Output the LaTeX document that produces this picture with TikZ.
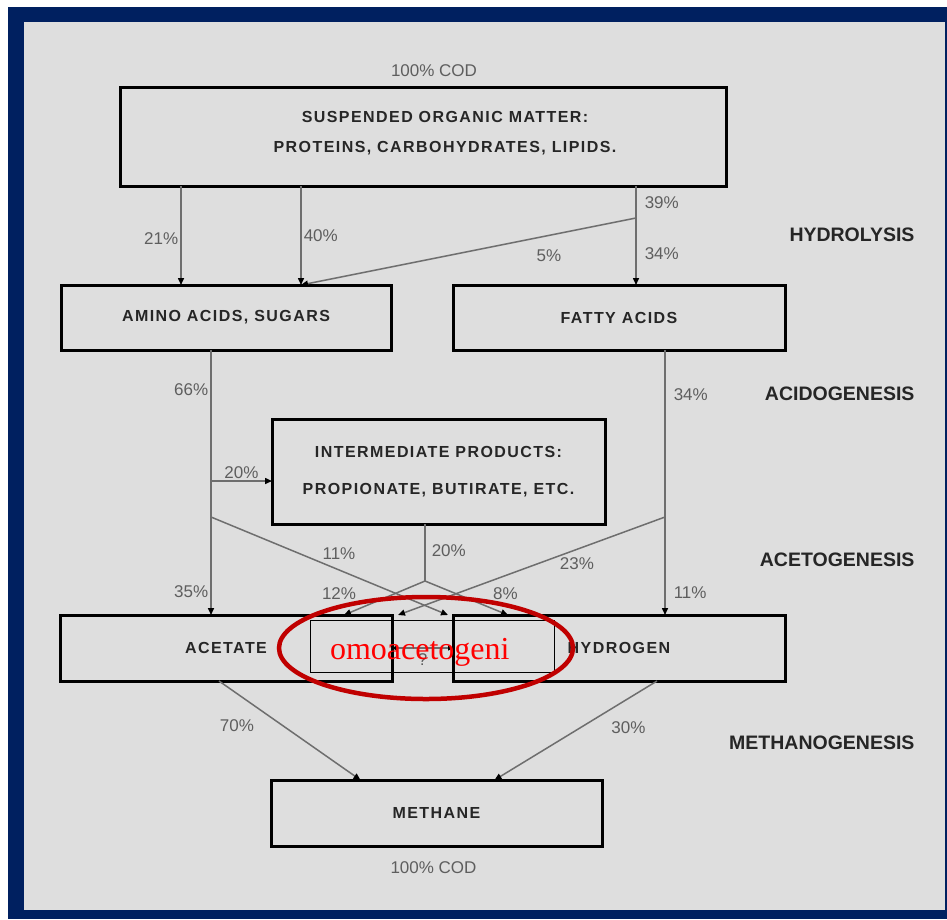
\documentclass[tikz,border=0pt]{standalone}
\usepackage{fontspec}
\setmainfont{Liberation Sans}
\newfontfamily\boxfont{Liberation Sans}[LetterSpace=9]
\newfontfamily\notefont{Liberation Serif}
\usetikzlibrary{arrows.meta,positioning}
\definecolor{navy}{HTML}{002060}
\definecolor{panel}{HTML}{DEDEDE}
\definecolor{linegray}{HTML}{6E6E6E}
\definecolor{pctgray}{HTML}{5E5E5E}
\definecolor{ringred}{HTML}{C00000}

\begin{document}
\begin{tikzpicture}[x=1pt, y=-1pt,
        pool/.style={draw=black, line width=3pt, outer sep=0pt, align=center, text=black!85, font=\boxfont\bfseries\fontsize{16}{30}\selectfont},
        phase/.style={anchor=east, text=black!85, font=\bfseries\fontsize{19.5}{22}\selectfont},
        pct/.style={inner sep=2pt, text=pctgray, font=\fontsize{17}{20}\selectfont},
        tie/.style={draw=linegray, line width=1.5pt},
        flow/.style={tie, -{Triangle[length=7pt,width=6pt,color=black]}},
        ring/.style={draw=ringred, line width=4.5pt}
    ]
    % frame
    \fill[white] (0,0) rectangle (947,919);
    \fill[navy] (8,7) rectangle (947,919);
    \fill[panel] (24,22) rectangle (945,910);
    \useasboundingbox (0,0) rectangle (947,919);

    \node[pool, minimum width=606pt, minimum height=99pt] (organic) at (423,136.5) {\hspace*{44pt}\begin{tabular}{@{}c@{}}SUSPENDED ORGANIC MATTER:\\PROTEINS, CARBOHYDRATES, LIPIDS.\end{tabular}\\[6pt]};
    \node[pool, minimum width=330pt, minimum height=65pt] (amino) at (226,317.5) {AMINO ACIDS, SUGARS};
    \node[pool, minimum width=332pt, minimum height=65pt, right=62pt of amino] (fatty) {FATTY ACIDS};
    \node[pool, minimum width=333pt, minimum height=105pt] (inter) at (438.5,471.5) {INTERMEDIATE PRODUCTS:\\[7pt]PROPIONATE, BUTIRATE, ETC.};
    \node[pool, minimum width=332pt, minimum height=66pt, below=265pt of amino] (acetate) {ACETATE};
    \node[pool, minimum width=332pt, minimum height=66pt, below=265pt of fatty] (hydrogen) {HYDROGEN};
    \node[pool, minimum width=331pt, minimum height=66pt] (methane) at (436.5,813) {METHANE};

    \node[pct, above=8pt of organic, xshift=11pt] (codin) {100\% COD};
    \node[pct, below=13pt of methane, xshift=-3pt] (codout) {100\% COD};

    \node[phase] (hydrolysis) at (918,235) {HYDROLYSIS};
    \node[phase] (acidogenesis) at (918,394) {ACIDOGENESIS};
    \node[phase] (acetogenesis) at (918,560) {ACETOGENESIS};
    \node[phase] (methanogenesis) at (918,743) {METHANOGENESIS};

    % hydrolysis
    \draw[flow] ([xshift=-45pt]amino.north |- organic.south) -- node[pct, left, pos=.53] {21\%} ([xshift=-45pt]amino.north);
    \draw[flow] ([xshift=75pt]amino.north |- organic.south) -- node[pct, right, pos=.5] {40\%} ([xshift=75pt]amino.north);
    \draw[flow] ([xshift=17pt]fatty.north |- organic.south) -- node[pct, right=6pt, pos=.17] {39\%} node[pct, right=6pt, pos=.68] {34\%} ([xshift=17pt]fatty.north);
    \path ([xshift=17pt]fatty.north) ++(0,-67) coordinate (fork5);
    \draw[flow] (fork5) -- node[pct, below=12pt, pos=.26] {5\%} ([xshift=75pt]amino.north);

    % acidogenesis
    \draw[flow] ([xshift=-15pt]amino.south) -- node[pct, left, pos=.15] {66\%} node[pct, left, pos=.91] {35\%} ([xshift=-15pt]amino.south |- acetate.north);
    \path ([xshift=-15pt]amino.south) ++(0,131) coordinate (fork20) ++(0,36) coordinate (fork11);
    \draw[flow] (fork20) -- node[pct, above, pos=.5] {20\%} (fork20 -| inter.west);
    \draw[flow] ([xshift=46pt]fatty.south) -- node[pct, right=6pt, pos=.17] {34\%} node[pct, right=6pt, pos=.915] {11\%} ([xshift=46pt]fatty.south |- hydrogen.north);
    \path ([xshift=46pt]fatty.south) ++(0,167) coordinate (fork23);

    % acetogenesis
    \draw[flow] (fork11) -- node[pct, above=8pt, pos=.54] {11\%} ([xshift=-5pt]hydrogen.north west);
    \draw[flow] (fork23) -- node[pct, below=6pt, pos=.33] {23\%} ([xshift=6pt]acetate.north east);
    \draw[tie] ([xshift=-13.5pt]inter.south) -- node[pct, right=4pt, pos=.46] {20\%} ++(0,57) coordinate (split);
    \draw[flow] (split) -- node[pct, above left, pos=.62, xshift=-16pt] {12\%} ([xshift=118pt]acetate.north);
    \draw[flow] (split) -- node[pct, above right, pos=.62, xshift=14pt] {8\%} ([xshift=-111pt]hydrogen.north);
    \draw[tie, {Triangle[length=5pt,width=5pt,color=black]}-{Triangle[length=5pt,width=5pt,color=black]}] (acetate.east) -- node[pct, below=3pt] {?} (hydrogen.west);

    % methanogenesis
    \draw[flow] ([xshift=-7pt]acetate.south) -- node[pct, left=26pt, pos=.45] {70\%} ([xshift=-76pt]methane.north);
    \draw[flow] ([xshift=38pt]hydrogen.south) -- node[pct, right=28pt, pos=.47] {30\%} ([xshift=58pt]methane.north);

    % note on top
    \node[draw=black, line width=0.8pt, minimum width=244pt, minimum height=52pt, text width=204pt, inner xsep=20pt, align=left, text height=26pt, text depth=0pt, text=red, font=\notefont\fontsize{32}{34}\selectfont] (omo) at (432,646) {omoacetogeni};
    \draw[ring] ([xshift=-6pt,yshift=-2pt]omo.center) ellipse [x radius=147, y radius=51];
\end{tikzpicture}
\end{document}
